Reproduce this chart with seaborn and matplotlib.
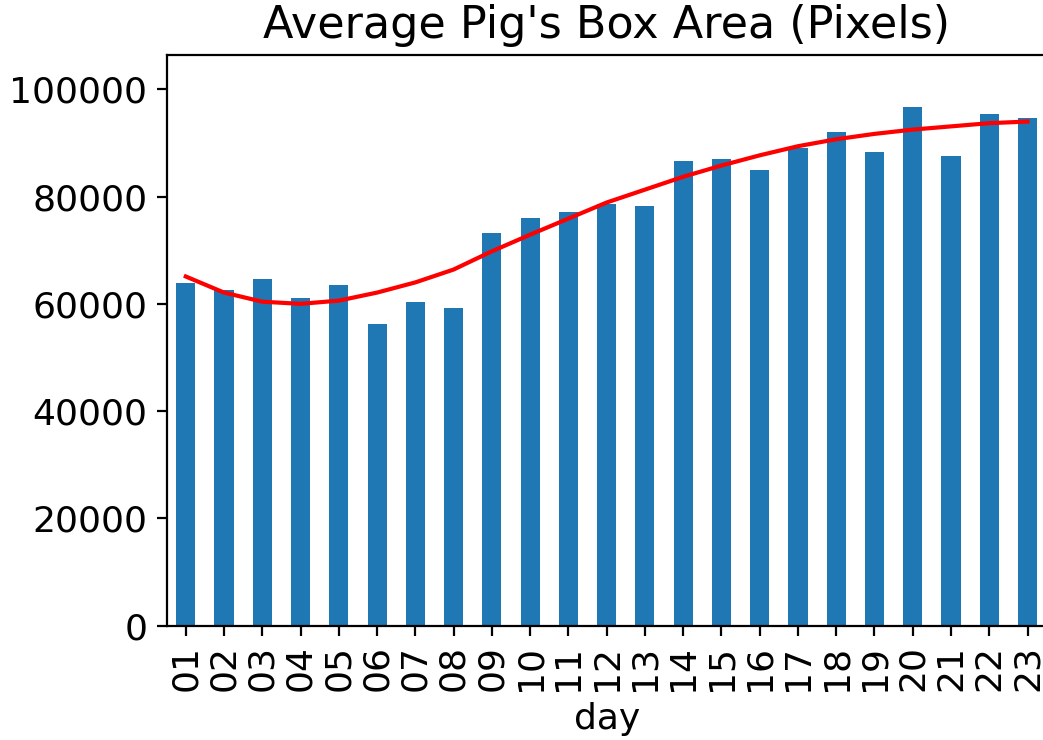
import numpy as np
import pandas as pd
import seaborn as sns
import matplotlib
matplotlib.use("Agg")
import matplotlib.pyplot as plt

# values
days = ["01", "02", "03", "04", "05", "06", "07", "08", "09", "10", "11", "12",
        "13", "14", "15", "16", "17", "18", "19", "20", "21", "22", "23"]
box_area = [63800, 62500, 64600, 61000, 63600, 56200, 60300, 59300, 73300, 76100,
            77200, 78700, 78200, 86600, 87100, 84900, 89000, 92000, 88400, 96800,
            87500, 95500, 94600]
# smooth red trend line
trend = [65100, 62100, 60400, 60000, 60600, 62100, 64000, 66400, 69800, 72900,
         75900, 78900, 81300, 83700, 85800, 87700, 89400, 90700, 91700, 92500,
         93100, 93700, 94000]

df = pd.DataFrame({"day": days, "area": box_area, "trend": trend})
df["pos"] = np.arange(len(df))

plt.rcParams["font.family"] = ["DejaVu Sans"]
plt.rcParams["font.size"] = 13

fig = plt.figure(figsize=(1043 / 200, 740 / 200), dpi=200)
ax = fig.add_axes([0.1598, 0.1547, 0.8437, 0.7716])

sns.barplot(data=df, x="day", y="area", color="#1f77b4", saturation=1,
            width=0.5, ax=ax)
ax.plot(df["pos"], df["trend"], color="red", lw=1.5)

ax.set_xlim(-0.5, 22.5)
ax.set_ylim(0, 106500)
ax.set_xlabel("day", fontsize=13)
ax.set_ylabel("")
ax.set_title("Average Pig's Box Area (Pixels)", fontsize=16)
ax.tick_params(axis="x", labelrotation=90, labelsize=13)
ax.tick_params(axis="y", labelsize=13)

fig.savefig("out.png", dpi=200)
